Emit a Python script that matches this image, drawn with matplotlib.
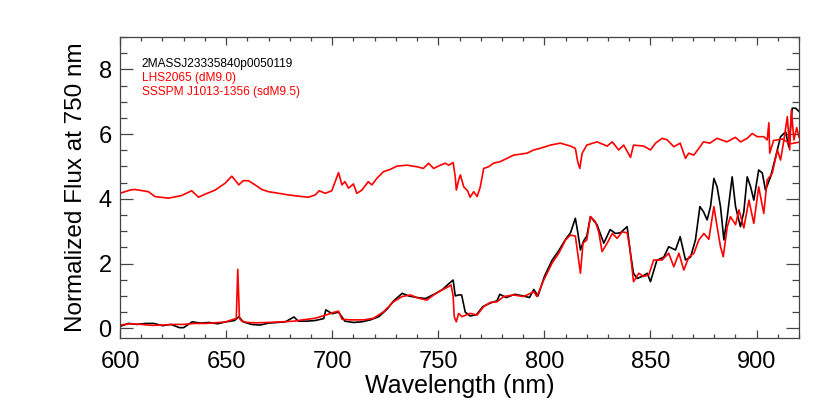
import matplotlib
matplotlib.use("Agg")
import matplotlib.pyplot as plt
from matplotlib.ticker import MultipleLocator

# ---------------- data ----------------
wl_target = [600, 604, 608, 612, 616, 620, 624, 628, 630, 634, 638, 642, 646, 650, 654, 656, 658,
             662, 666, 670, 674, 678, 682, 684, 688, 692, 696, 697, 700, 703, 706, 710, 714, 718,
             722, 726, 729, 733, 736, 740, 744, 748, 752, 755, 757, 758, 759.6, 761, 762.7, 765,
             768, 771, 774.5, 777.7, 779, 782, 786, 790, 793, 795, 797, 800, 803.6, 806.8, 810,
             812.3, 814.6, 815.7, 817, 818.5, 820, 821.7, 824.8, 828, 831, 833.5, 835.8, 839,
             840.6, 842, 843.7, 846, 848.5, 850, 853, 856.3, 858.6, 861.8, 864, 866.5, 868.9,
             871.2, 873.3, 875, 876.7, 878.3, 879.9, 881.4, 883, 884.6, 886.2, 888.5, 890.1,
             892.4, 894, 895.6, 897.2, 898.7, 901, 902.7, 904.2, 906.6, 909, 911.3, 913.7, 915.2,
             916.8, 918.4, 920]
flux_target = [0.06, 0.15, 0.12, 0.15, 0.15, 0.08, 0.12, 0.02, 0.02, 0.20, 0.16, 0.18, 0.14, 0.20,
               0.24, 0.36, 0.20, 0.12, 0.10, 0.16, 0.18, 0.20, 0.35, 0.22, 0.22, 0.24, 0.30, 0.57,
               0.45, 0.50, 0.22, 0.18, 0.20, 0.26, 0.36, 0.60, 0.85, 1.08, 1.00, 0.95, 0.92, 1.05,
               1.20, 1.38, 1.49, 1.00, 1.03, 1.03, 0.50, 0.38, 0.42, 0.67, 0.78, 0.85, 1.05, 0.95,
               1.05, 1.00, 0.95, 1.20, 1.00, 1.60, 2.10, 2.40, 2.75, 2.95, 3.40, 2.98, 2.42, 2.70,
               2.85, 3.45, 3.20, 2.63, 3.05, 2.93, 2.95, 3.14, 2.30, 1.70, 1.54, 1.60, 1.70, 1.44,
               2.10, 2.20, 2.52, 2.42, 2.83, 2.11, 2.20, 2.73, 3.76, 3.60, 3.35, 3.76, 4.63, 4.37,
               3.76, 2.73, 3.45, 4.68, 3.76, 3.14, 3.60, 4.68, 4.37, 3.96, 4.89, 4.80, 4.27, 4.68,
               5.30, 5.92, 6.07, 5.60, 6.80, 6.80, 6.70]

wl_dm9 = [600, 605, 610, 615, 620, 625, 630, 635, 640, 645, 650, 653.5, 654.8, 655.5, 656.3, 657.5,
          660, 664, 670, 676, 682, 686, 692, 698, 700.6, 703, 704.6, 708.5, 714.8, 719.5, 724.2,
          728.9, 732.9, 736.8, 740.7, 744.6, 747.8, 751.7, 754.9, 756, 757, 757.5, 758.5, 759.6,
          761.2, 765, 768.3, 771.4, 774.5, 777.7, 780.8, 785.5, 790.2, 795, 796.5, 799.7, 803.6,
          806.8, 810, 812.3, 814.6, 815.7, 817, 818.2, 820, 821.7, 824, 825.6, 827.2, 829.6, 832,
          834.3, 836.7, 839, 840.4, 842, 844.5, 846.8, 849.2, 851.5, 855.5, 858.6, 861, 863.4,
          865.7, 868.1, 870.5, 872.8, 875.2, 877.5, 879.9, 881.4, 883, 884.3, 886.2, 887.7, 890.1,
          891.7, 894, 896.4, 898.7, 901, 903.4, 905, 907.4, 909.8, 911.3, 912.9, 914.5, 915.6,
          916.4, 917.6, 918.9, 920]
flux_dm9 = [0.10, 0.14, 0.12, 0.09, 0.10, 0.12, 0.12, 0.15, 0.15, 0.17, 0.20, 0.28, 0.30, 1.82, 0.30,
            0.22, 0.18, 0.17, 0.18, 0.20, 0.22, 0.26, 0.31, 0.43, 0.49, 0.53, 0.28, 0.26, 0.26, 0.31,
            0.51, 0.82, 0.98, 1.03, 0.93, 0.87, 1.03, 1.18, 1.29, 1.34, 1.00, 0.36, 0.20, 0.46, 0.36,
            0.46, 0.41, 0.67, 0.80, 0.82, 0.98, 1.03, 0.98, 1.13, 0.98, 1.49, 2.01, 2.32, 2.73, 2.88,
            2.85, 2.32, 1.70, 2.63, 2.73, 3.45, 3.30, 2.98, 2.37, 2.63, 2.93, 2.78, 2.98, 2.95, 2.42,
            1.44, 1.70, 1.60, 1.65, 2.11, 2.11, 2.32, 1.90, 2.32, 1.80, 2.20, 2.32, 2.73, 2.93, 2.75,
            3.76, 3.14, 2.52, 2.21, 3.14, 3.45, 3.20, 3.66, 3.10, 3.96, 3.24, 4.37, 3.55, 4.58, 4.79,
            5.51, 5.20, 5.82, 6.54, 5.51, 6.74, 5.82, 6.20, 5.90]

wl_sdm95 = [600, 604.7, 607, 613.4, 616.5, 622.8, 629, 633.8, 637, 640, 644.8, 649.5, 652.7, 654.2,
            656, 658, 660.5, 663.7, 666.8, 670, 673, 679.4, 685.7, 688.8, 692, 693.9, 696.7, 699.8,
            703, 704.6, 706, 707.7, 710, 711.6, 714, 717, 718.7, 721, 724.2, 727.4, 730.5, 735.2,
            740, 743, 745.4, 747.8, 751, 753.3, 754.9, 757, 758, 758.5, 759.6, 760.4, 762, 763.8,
            765, 766.7, 768.3, 769.8, 771.4, 773.7, 776, 779.2, 782.4, 785.5, 788.7, 791.8, 795,
            798, 802.8, 807.5, 812.3, 814.6, 815.7, 816.7, 817.8, 820, 824.8, 829.6, 832, 835,
            837.4, 840.6, 842, 846.8, 850, 852.4, 855.5, 857.9, 861, 864, 866.5, 868, 870.4, 872.8,
            875, 878, 881.4, 886, 890, 892.5, 895.6, 898, 900.3, 903.4, 905, 905.8, 906.2, 908,
            912, 916, 920]
flux_sdm95 = [0.17, 0.27, 0.29, 0.22, 0.07, 0.02, 0.10, 0.25, 0.05, 0.14, 0.27, 0.48, 0.70, 0.58,
              0.43, 0.56, 0.56, 0.43, 0.29, 0.22, 0.19, 0.12, 0.07, 0.05, 0.12, 0.25, 0.17, 0.25,
              0.81, 0.43, 0.53, 0.33, 0.46, 0.17, 0.27, 0.53, 0.43, 0.63, 0.84, 0.91, 1.01, 1.04,
              0.99, 0.94, 1.10, 0.94, 1.04, 1.10, 1.04, 1.12, 0.68, 0.27, 0.58, 0.74, 0.37, 0.25,
              0.05, 0.22, 0.07, 0.37, 0.94, 0.99, 1.10, 1.15, 1.25, 1.35, 1.38, 1.41, 1.51, 1.56,
              1.66, 1.72, 1.63, 1.56, 1.15, 0.94, 1.41, 1.66, 1.76, 1.63, 1.76, 1.51, 1.66, 1.28,
              1.66, 1.63, 1.51, 1.72, 1.87, 1.82, 1.61, 1.72, 1.25, 1.41, 1.35, 1.56, 1.76, 1.72,
              1.87, 1.76, 1.90, 1.76, 1.87, 2.02, 1.92, 1.92, 1.82, 2.35, 1.41, 1.80, 1.85, 1.70,
              1.75]
sdm95_offset = 4.0

labels = ["2MASSJ23335840p0050119", "LHS2065 (dM9.0)", "SSSPM J1013-1356 (sdM9.5)"]
label_colors = ["black", "red", "red"]
xlabel = "Wavelength (nm)"
ylabel = "Normalized Flux at 750 nm"

# ---------------- figure ----------------
plt.rcParams['font.family'] = ['Liberation Sans', 'DejaVu Sans']

fig = plt.figure(figsize=(8.3, 4.15), dpi=100)
ax = fig.add_axes([120 / 830, 1 - 338 / 415, 679 / 830, 301 / 415])

ax.plot(wl_target, flux_target, color="black", lw=1.2)
ax.plot(wl_dm9, flux_dm9, color="red", lw=1.2)
ax.plot(wl_sdm95, [v + sdm95_offset for v in flux_sdm95], color="red", lw=1.2)

ax.set_xlim(600, 920)
ax.set_ylim(-0.3, 9)
ax.xaxis.set_major_locator(MultipleLocator(50))
ax.xaxis.set_minor_locator(MultipleLocator(10))
ax.yaxis.set_major_locator(MultipleLocator(2))
ax.yaxis.set_minor_locator(MultipleLocator(0.5))

for s in ax.spines.values():
    s.set_linewidth(0.9)
    s.set_color("#444444")

ax.tick_params(axis="both", which="both", direction="in", top=True, right=True,
               colors="#444444", labelcolor="black", width=0.9)
ax.tick_params(axis="x", which="major", length=5.5, pad=9, labelsize=17)
ax.tick_params(axis="x", which="minor", length=2.8)
ax.tick_params(axis="y", which="major", length=9.5, pad=6, labelsize=17)
ax.tick_params(axis="y", which="minor", length=4.7)

ax.set_xlabel(xlabel, fontsize=18, labelpad=1)
ax.set_ylabel(ylabel, fontsize=17.5, labelpad=8)

ys = [0.909, 0.863, 0.818]
for txt, col, yy in zip(labels, label_colors, ys):
    ax.text(0.032, yy, txt, color=col, fontsize=8.6,
            transform=ax.transAxes, va="center", ha="left")

fig.savefig("out.png", dpi=100)
